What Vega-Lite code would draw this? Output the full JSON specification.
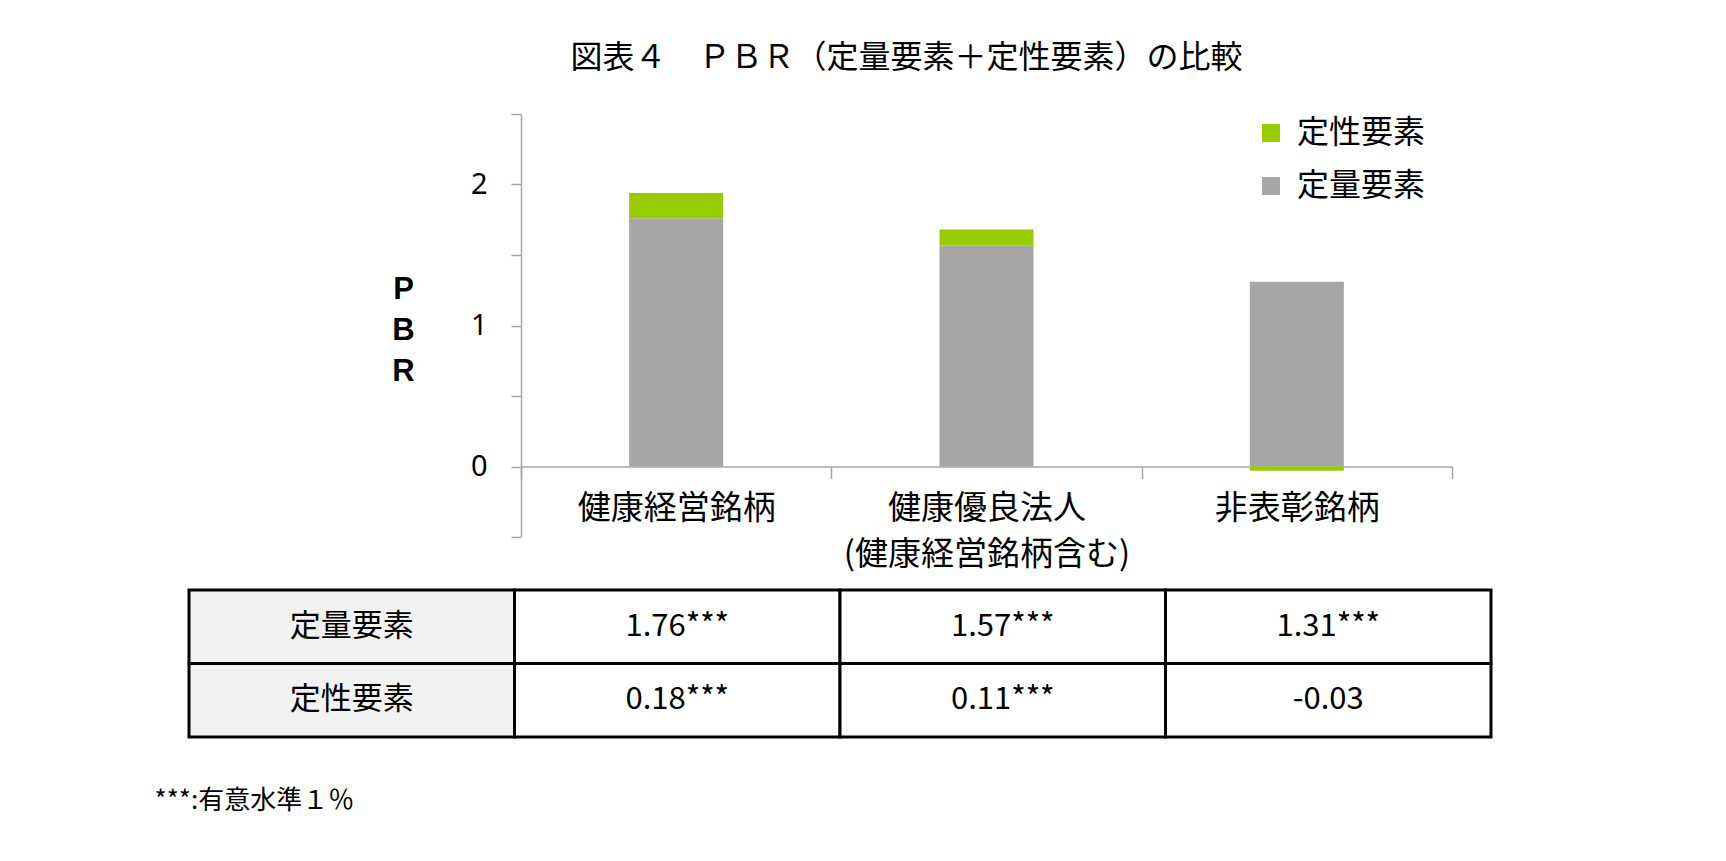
{
  "$schema": "https://vega.github.io/schema/vega-lite/v6.json",
  "padding": {"left": 154, "top": 42, "right": 5, "bottom": 5},
  "background": "#ffffff",
  "config": {"view": {"stroke": null}, "font": "Noto Sans CJK JP"},
  "title": {
    "text": "図表４　ＰＢＲ（定量要素＋定性要素）の比較",
    "font": "Noto Sans CJK JP",
    "fontSize": 32,
    "fontWeight": "normal",
    "color": "#000000",
    "anchor": "middle",
    "dx": 83,
    "offset": 38
  },
  "datasets": {
    "bars": [
      {"cat": "健康経営銘柄", "type": "定量要素", "value": 1.76},
      {"cat": "健康経営銘柄", "type": "定性要素", "value": 0.18},
      {"cat": "健康優良法人\n(健康経営銘柄含む)", "type": "定量要素", "value": 1.57},
      {"cat": "健康優良法人\n(健康経営銘柄含む)", "type": "定性要素", "value": 0.11},
      {"cat": "非表彰銘柄", "type": "定量要素", "value": 1.31},
      {"cat": "非表彰銘柄", "type": "定性要素", "value": -0.03}
    ],
    "table": [
      {"row": "定量要素", "col": "項目", "text": "定量要素"},
      {"row": "定量要素", "col": "健康経営銘柄", "text": "1.76***"},
      {"row": "定量要素", "col": "健康優良法人", "text": "1.57***"},
      {"row": "定量要素", "col": "非表彰銘柄", "text": "1.31***"},
      {"row": "定性要素", "col": "項目", "text": "定性要素"},
      {"row": "定性要素", "col": "健康経営銘柄", "text": "0.18***"},
      {"row": "定性要素", "col": "健康優良法人", "text": "0.11***"},
      {"row": "定性要素", "col": "非表彰銘柄", "text": "-0.03"}
    ]
  },
  "bounds": "flush",
  "spacing": 53,
  "resolve": {"scale": {"color": "independent"}, "legend": {"color": "independent"}},
  "vconcat": [
    {
      "width": 1263,
      "height": 423,
      "data": {"name": "bars"},
      "mark": {"type": "bar", "width": {"band": 0.303}},
      "encoding": {
        "x": {
          "field": "cat",
          "type": "nominal",
          "sort": null,
          "scale": {"paddingInner": 0, "paddingOuter": 0, "range": [332, 1263]},
          "axis": {
            "title": null,
            "labelAngle": 0,
            "offset": -70.5,
            "tickBand": "extent",
            "domainColor": "#A6A6A6",
            "domainWidth": 1.5,
            "tickColor": "#A6A6A6",
            "tickWidth": 1.5,
            "tickSize": 12,
            "labelFont": "Noto Sans CJK JP",
            "labelFontSize": 33,
            "labelColor": "#000000",
            "labelPadding": 14,
            "labelLineHeight": 46,
            "labelLimit": 0,
            "labelOverlap": false,
            "labelExpr": "split(datum.label, '\\n')"
          }
        },
        "y": {
          "field": "value",
          "type": "quantitative",
          "stack": "zero",
          "scale": {"domain": [-0.5, 2.5], "nice": false, "zero": false},
          "axis": {
            "offset": -332,
            "values": [-0.5, 0, 0.5, 1, 1.5, 2, 2.5],
            "labelExpr": "datum.value >= 0 && datum.value % 1 == 0 ? format(datum.value, 'd') : ''",
            "grid": false,
            "domainColor": "#A6A6A6",
            "domainWidth": 1.5,
            "tickColor": "#A6A6A6",
            "tickWidth": 1.5,
            "tickSize": 10,
            "labelFont": "Noto Sans",
            "labelFontSize": 29,
            "labelColor": "#000000",
            "labelPadding": 24,
            "title": ["P", "B", "R"],
            "titleFont": "Liberation Sans",
            "titleFontSize": 31,
            "titleFontWeight": "bold",
            "titleColor": "#000000",
            "titleAngle": 0,
            "titleAlign": "center",
            "titleBaseline": "middle",
            "titleLineHeight": 41,
            "titleX": -118,
            "titleY": 175
          }
        },
        "color": {
          "field": "type",
          "type": "nominal",
          "scale": {"domain": ["定性要素", "定量要素"], "range": ["#99CC00", "#A6A6A6"]},
          "legend": {
            "orient": "none",
            "legendX": 1066,
            "legendY": 3,
            "title": null,
            "symbolType": "square",
            "symbolSize": 324,
            "symbolStrokeWidth": 0,
            "labelFont": "Noto Sans CJK JP",
            "labelFontSize": 32,
            "labelColor": "#000000",
            "labelOffset": 10,
            "rowPadding": 21
          }
        },
        "order": {"field": "type", "sort": "descending"}
      }
    },
    {
      "width": 1302,
      "height": 147,
      "data": {"name": "table"},
      "title": {
        "text": "***:有意水準１％",
        "orient": "bottom",
        "anchor": "start",
        "dx": -33,
        "offset": 49,
        "font": "Noto Sans CJK JP",
        "fontSize": 26,
        "fontWeight": "normal",
        "color": "#000000"
      },
      "encoding": {
        "x": {"field": "col", "type": "nominal", "sort": null, "axis": null, "scale": {"paddingInner": 0, "paddingOuter": 0}},
        "y": {"field": "row", "type": "nominal", "sort": null, "axis": null, "scale": {"paddingInner": 0, "paddingOuter": 0}}
      },
      "layer": [
        {
          "mark": {"type": "rect", "stroke": "#000000", "strokeWidth": 3},
          "encoding": {
            "fill": {"condition": {"test": "datum.col == '項目'", "value": "#F2F2F2"}, "value": "#FFFFFF"}
          }
        },
        {
          "mark": {"type": "text", "fontSize": 31, "color": "#000000", "font": "Noto Sans CJK JP"},
          "encoding": {"text": {"field": "text"}}
        }
      ]
    }
  ]
}
